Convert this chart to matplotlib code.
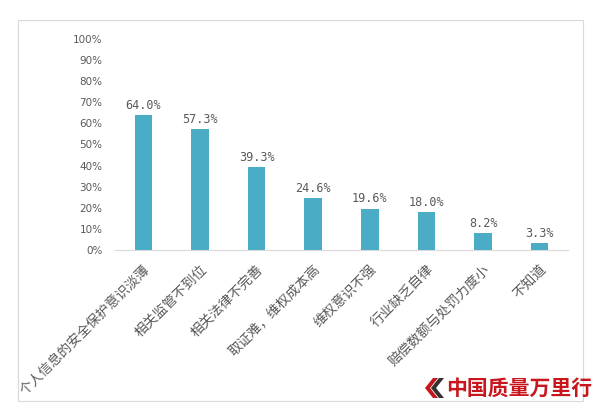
import matplotlib
matplotlib.use('Agg')
import matplotlib.pyplot as plt
from matplotlib.patches import Rectangle, Polygon

categories = ['个人信息的安全保护意识淡薄', '相关监管不到位', '相关法律不完善',
              '取证难，维权成本高', '维权意识不强', '行业缺乏自律',
              '赔偿数额与处罚力度小', '不知道']
values = [64.0, 57.3, 39.3, 24.6, 19.6, 18.0, 8.2, 3.3]
yticks = [0, 10, 20, 30, 40, 50, 60, 70, 80, 90, 100]

BAR = '#4BACC6'
TXT = '#595959'
CJK = ['Noto Sans CJK SC', 'DejaVu Sans']

fig = plt.figure(figsize=(6.0, 4.18), dpi=100)
fig.patch.set_facecolor('white')

# outer frame
fig.patches.append(Rectangle((18/600, 1-401/418), 565/600, 381/418,
                             transform=fig.transFigure, fill=False,
                             ec='#d9d9d9', lw=0.8))

ax = fig.add_axes([115/600, 1-250/418, 453/600, 211/418])
x = range(len(categories))
bars = ax.bar(x, values, width=0.31, color=BAR, zorder=3)
for xi, v in zip(x, values):
    ax.text(xi, v + 1.5, f'{v:.1f}%', ha='center', va='bottom',
            fontsize=8.5, color=TXT, family='DejaVu Sans Mono')

ax.set_xlim(-0.5, len(categories) - 0.5)
ax.set_ylim(0, 100)
ax.set_yticks(yticks)
ax.set_yticklabels([f'{t}%' for t in yticks], fontsize=7.5, color=TXT,
                   family='DejaVu Sans')
ax.set_xticks(list(x))
ax.set_xticklabels(categories, rotation=45, ha='right', va='top',
                   rotation_mode='anchor', fontsize=9.8, color=TXT, family=CJK)
ax.tick_params(axis='both', length=0)
ax.tick_params(axis='y', pad=9)
ax.tick_params(axis='x', pad=9)
for s in ['top', 'right', 'left']:
    ax.spines[s].set_visible(False)
ax.spines['bottom'].set_color('#d9d9d9')

# logo
fig.patches.append(Polygon([(425/600, 1-388/418), (433/600, 1-378/418),
                            (438/600, 1-378/418), (430/600, 1-388/418),
                            (438/600, 1-398/418), (433/600, 1-398/418)],
                           closed=True, transform=fig.transFigure, fc='#c8161d'))
fig.patches.append(Polygon([(431/600, 1-388/418), (439/600, 1-378/418),
                            (444/600, 1-378/418), (436/600, 1-388/418),
                            (444/600, 1-398/418), (439/600, 1-398/418)],
                           closed=True, transform=fig.transFigure, fc='#333333'))
fig.text(446/600, 1-388/418, '中国质量万里行', ha='left', va='center',
         fontsize=15, color='#c8161d', family=CJK, fontweight='bold')

fig.savefig('out.png', dpi=100, facecolor='white')
